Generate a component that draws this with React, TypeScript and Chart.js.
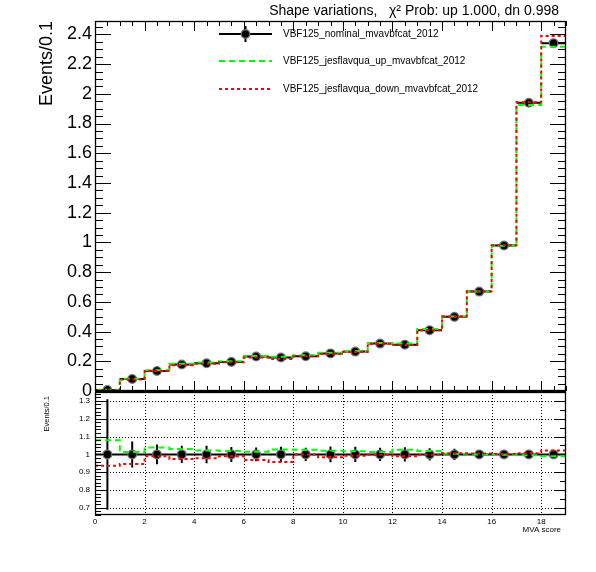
import { useEffect, useRef } from 'react'
import { Chart, registerables } from 'chart.js'

Chart.register(...registerables)

const FONT = "'Liberation Sans', Arial, Helvetica, sans-serif"

// MVA score histogram: 19 bins of width 1
const binEdges = [0, 1, 2, 3, 4, 5, 6, 7, 8, 9, 10, 11, 12, 13, 14, 15, 16, 17, 18, 19]

// Events/0.1 in the upper pad
const nominal = [0.007, 0.081, 0.135, 0.178, 0.187, 0.196, 0.232, 0.225, 0.234, 0.253, 0.265, 0.319, 0.312, 0.409, 0.499, 0.669, 0.979, 1.94, 2.341]
const nominalErr = [0.002, 0.006, 0.0074, 0.0085, 0.0092, 0.0082, 0.009, 0.0097, 0.0087, 0.011, 0.0114, 0.0118, 0.0125, 0.0139, 0.016, 0.0167, 0.0176, 0.025, 0.028]
const jesUp = [0.0076, 0.082, 0.14, 0.183, 0.191, 0.2, 0.235, 0.231, 0.24, 0.258, 0.27, 0.323, 0.32, 0.417, 0.501, 0.669, 0.977, 1.924, 2.317]
const jesDown = [0.0066, 0.077, 0.134, 0.173, 0.183, 0.194, 0.225, 0.216, 0.234, 0.249, 0.263, 0.318, 0.309, 0.408, 0.502, 0.672, 0.981, 1.944, 2.389]

// ratio pad
const ratioUp = [1.08, 1.013, 1.039, 1.03, 1.022, 1.019, 1.015, 1.028, 1.026, 1.02, 1.017, 1.013, 1.026, 1.019, 1.004, 1.0, 0.998, 0.995, 0.99]
const ratioDown = [0.936, 0.946, 0.99, 0.974, 0.979, 0.989, 0.969, 0.958, 1.0, 0.984, 0.993, 0.998, 0.99, 0.998, 1.006, 1.005, 1.002, 1.007, 1.022]
const ratioErr = [0.31, 0.073, 0.055, 0.048, 0.049, 0.042, 0.039, 0.043, 0.037, 0.044, 0.043, 0.037, 0.04, 0.034, 0.032, 0.025, 0.018, 0.013, 0.012]

const topYTicks = [0, 0.2, 0.4, 0.6, 0.8, 1, 1.2, 1.4, 1.6, 1.8, 2, 2.2, 2.4]
const ratioYTicks = [0.7, 0.8, 0.9, 1, 1.1, 1.2, 1.3]
const ratioXTicks = [0, 2, 4, 6, 8, 10, 12, 14, 16, 18]

const legendLabels = [
  'VBF125_nominal_mvavbfcat_2012',
  'VBF125_jesflavqua_up_mvavbfcat_2012',
  'VBF125_jesflavqua_down_mvavbfcat_2012',
]
const titleText = 'Shape variations,   χ² Prob: up 1.000, dn 0.998'

const GREEN = '#00ff00'
const RED = '#ff0000'
const GREEN_DASH = [6, 4]
const RED_DASH = [3, 3]

const centers = binEdges.slice(0, -1).map((e, i) => (e + binEdges[i + 1]) / 2)
const ratioNominal = nominal.map(() => 1)

function stepPoints(values: number[]) {
  return binEdges.map((x, i) => ({ x, y: values[Math.min(i, values.length - 1)] }))
}

function fmt(v: number | string) {
  return String(Number(Number(v).toFixed(2)))
}

function clipArea(chart: Chart) {
  const { ctx, chartArea: a } = chart
  ctx.beginPath()
  ctx.rect(a.left, a.top, a.right - a.left, a.bottom - a.top)
  ctx.clip()
}

function drawErrorBars(chart: Chart, values: number[], errs: number[]) {
  const { ctx, scales } = chart
  const x = scales.x
  const y = scales.y
  ctx.save()
  clipArea(chart)
  ctx.strokeStyle = '#000'
  ctx.lineWidth = 2
  ctx.beginPath()
  values.forEach((v, i) => {
    const py = y.getPixelForValue(v)
    ctx.moveTo(x.getPixelForValue(binEdges[i]), py)
    ctx.lineTo(x.getPixelForValue(binEdges[i + 1]), py)
    const cx = x.getPixelForValue(centers[i])
    ctx.moveTo(cx, y.getPixelForValue(v - errs[i]))
    ctx.lineTo(cx, y.getPixelForValue(v + errs[i]))
  })
  ctx.stroke()
  ctx.restore()
}

// ROOT-style inward tick marks
function tickMarks(chart: Chart, axis: 'x' | 'y', from: number, to: number, step: number, len: number, sides: string[]) {
  const { ctx, chartArea: a, scales } = chart
  const s = scales[axis]
  ctx.beginPath()
  for (let k = 0; from + k * step <= to + 1e-9; k++) {
    const p = Math.round(s.getPixelForValue(from + k * step)) + 0.5
    if (axis === 'x') {
      if (sides.includes('bottom')) { ctx.moveTo(p, a.bottom); ctx.lineTo(p, a.bottom - len) }
      if (sides.includes('top')) { ctx.moveTo(p, a.top); ctx.lineTo(p, a.top + len) }
    } else {
      if (sides.includes('left')) { ctx.moveTo(a.left, p); ctx.lineTo(a.left + len, p) }
      if (sides.includes('right')) { ctx.moveTo(a.right, p); ctx.lineTo(a.right - len, p) }
    }
  }
  ctx.stroke()
}

function drawFrame(chart: Chart) {
  const { ctx, chartArea: a } = chart
  ctx.strokeStyle = '#000'
  ctx.lineWidth = 1.3
  ctx.strokeRect(a.left + 0.5, a.top + 0.5, a.right - a.left - 1, a.bottom - a.top - 1)
}

function rotatedTitle(ctx: CanvasRenderingContext2D, text: string, x: number, y: number, size: number) {
  ctx.save()
  ctx.translate(x, y)
  ctx.rotate(-Math.PI / 2)
  ctx.font = `${size}px ${FONT}`
  ctx.fillStyle = '#000'
  ctx.textAlign = 'right'
  ctx.textBaseline = 'middle'
  ctx.fillText(text, 0, 0)
  ctx.restore()
}

function drawMarker(ctx: CanvasRenderingContext2D, x: number, y: number) {
  ctx.beginPath()
  ctx.arc(x, y, 4.3, 0, Math.PI * 2)
  ctx.fillStyle = '#000'
  ctx.fill()
  ctx.lineWidth = 1.4
  ctx.strokeStyle = 'rgba(110,110,110,0.9)'
  ctx.stroke()
}

// keep the plot area exactly where the layout padding puts it
function noScalePadding(s: any) {
  s.paddingTop = 0
  s.paddingBottom = 0
  s.paddingLeft = 0
  s.paddingRight = 0
}

const topDecor = {
  id: 'topDecor',
  beforeDatasetsDraw(chart: Chart) {
    drawErrorBars(chart, nominal, nominalErr)
  },
  afterDraw(chart: Chart) {
    const { ctx, chartArea: a } = chart
    ctx.save()
    drawFrame(chart)
    ctx.lineWidth = 2
    ctx.beginPath()
    ctx.moveTo(a.left, a.bottom)
    ctx.lineTo(a.right, a.bottom)
    ctx.stroke()
    ctx.lineWidth = 1
    tickMarks(chart, 'x', 0, 19, 0.5, 5, ['top', 'bottom'])
    tickMarks(chart, 'x', 0, 18, 2, 10, ['top', 'bottom'])
    tickMarks(chart, 'y', 0, 2.49, 0.05, 8, ['left', 'right'])
    tickMarks(chart, 'y', 0, 2.4, 0.2, 16, ['left', 'right'])

    // title
    ctx.font = `14px ${FONT}`
    ctx.fillStyle = '#000'
    ctx.textAlign = 'right'
    ctx.textBaseline = 'alphabetic'
    ctx.fillText(titleText, 559, 15)

    rotatedTitle(ctx, 'Events/0.1', 47, 21, 18)

    // legend
    const rows = [34, 61, 89]
    const x0 = 219
    const x1 = 272
    ctx.lineWidth = 2
    ctx.strokeStyle = '#000'
    ctx.beginPath()
    ctx.moveTo(x0, rows[0]); ctx.lineTo(x1, rows[0])
    ctx.moveTo((x0 + x1) / 2, rows[0] - 8); ctx.lineTo((x0 + x1) / 2, rows[0] + 8)
    ctx.stroke()
    drawMarker(ctx, (x0 + x1) / 2, rows[0])
    ctx.lineWidth = 2
    ctx.strokeStyle = GREEN
    ctx.setLineDash(GREEN_DASH)
    ctx.beginPath(); ctx.moveTo(x0, rows[1]); ctx.lineTo(x1, rows[1]); ctx.stroke()
    ctx.strokeStyle = RED
    ctx.setLineDash(RED_DASH)
    ctx.beginPath(); ctx.moveTo(x0, rows[2]); ctx.lineTo(x1, rows[2]); ctx.stroke()
    ctx.setLineDash([])
    ctx.font = `10px ${FONT}`
    ctx.fillStyle = '#000'
    ctx.textAlign = 'left'
    ctx.textBaseline = 'middle'
    legendLabels.forEach((t, i) => ctx.fillText(t, 283, rows[i]))
    ctx.restore()
  },
}

const bottomDecor = {
  id: 'bottomDecor',
  beforeDatasetsDraw(chart: Chart) {
    const { ctx, chartArea: a, scales } = chart
    ctx.save()
    ctx.strokeStyle = '#000'
    ctx.lineWidth = 1
    ctx.setLineDash([1, 2])
    ctx.beginPath()
    ratioYTicks.forEach((v) => {
      const p = Math.round(scales.y.getPixelForValue(v)) + 0.5
      ctx.moveTo(a.left, p); ctx.lineTo(a.right, p)
    })
    ratioXTicks.slice(1).forEach((v) => {
      const p = Math.round(scales.x.getPixelForValue(v)) + 0.5
      ctx.moveTo(p, a.top); ctx.lineTo(p, a.bottom)
    })
    ctx.stroke()
    ctx.restore()
    drawErrorBars(chart, ratioNominal, ratioErr)
  },
  afterDraw(chart: Chart) {
    const { ctx, chartArea: a, scales } = chart
    ctx.save()
    drawFrame(chart)
    ctx.lineWidth = 1
    tickMarks(chart, 'y', 0.66, 1.35, 0.02, 6, ['left'])
    tickMarks(chart, 'y', 0.7, 1.35, 0.05, 6, ['right'])
    tickMarks(chart, 'y', 0.7, 1.3, 0.1, 12, ['left', 'right'])
    rotatedTitle(ctx, 'Events/0.1', 47, 4, 7.5)
    ctx.font = `8px ${FONT}`
    ctx.fillStyle = '#000'
    ctx.textAlign = 'right'
    ctx.textBaseline = 'middle'
    ratioYTicks.forEach((v) => ctx.fillText(fmt(v), a.left - 5, scales.y.getPixelForValue(v)))
    ctx.fillText('MVA score', 561, 138)
    ctx.restore()
  },
}

function markerDataset(values: number[]) {
  return {
    type: 'line' as const,
    data: centers.map((x, i) => ({ x, y: values[i] })),
    showLine: false,
    pointRadius: 4.3,
    pointBackgroundColor: '#000',
    pointBorderColor: 'rgba(110,110,110,0.9)',
    pointBorderWidth: 1.4,
    order: 3,
  }
}

function stepDataset(values: number[], color: string, dash: number[], order: number) {
  return {
    type: 'line' as const,
    data: stepPoints(values),
    stepped: true,
    borderColor: color,
    borderWidth: 2,
    borderDash: dash,
    pointRadius: 0,
    fill: false,
    order,
  }
}

const baseOptions = {
  responsive: true,
  maintainAspectRatio: false,
  animation: false as const,
  events: [],
  plugins: { legend: { display: false }, tooltip: { enabled: false } },
}

export default function App() {
  const topRef = useRef<HTMLCanvasElement>(null)
  const bottomRef = useRef<HTMLCanvasElement>(null)

  useEffect(() => {
    if (!topRef.current || !bottomRef.current) return

    const top = new Chart(topRef.current, {
      type: 'line',
      data: {
        datasets: [
          markerDataset(nominal),
          stepDataset(jesUp, GREEN, GREEN_DASH, 2),
          stepDataset(jesDown, RED, RED_DASH, 1),
        ] as any,
      },
      options: {
        ...baseOptions,
        layout: { autoPadding: false, padding: { left: 0, right: 30, top: 21, bottom: 19 } },
        scales: {
          x: { type: 'linear', min: 0, max: 19, display: false },
          y: {
            type: 'linear',
            min: 0,
            max: 2.49,
            afterBuildTicks: (s: any) => {
              s.ticks = topYTicks.map((value) => ({ value }))
            },
            afterFit: (s: any) => {
              s.width = 95
              noScalePadding(s)
            },
            grid: { display: false, drawTicks: false },
            border: { display: false },
            ticks: {
              color: '#000',
              autoSkip: false,
              padding: 3,
              font: { family: FONT, size: 18 },
              callback: (v: any) => fmt(v),
            },
          },
        },
      } as any,
      plugins: [topDecor],
    })

    const bottom = new Chart(bottomRef.current, {
      type: 'line',
      data: {
        datasets: [
          markerDataset(ratioNominal),
          stepDataset(ratioUp, GREEN, GREEN_DASH, 2),
          stepDataset(ratioDown, RED, RED_DASH, 1),
        ] as any,
      },
      options: {
        ...baseOptions,
        layout: { autoPadding: false, padding: { left: 0, right: 30, top: 0, bottom: 0 } },
        scales: {
          x: {
            type: 'linear',
            min: 0,
            max: 19,
            afterBuildTicks: (s: any) => {
              s.ticks = ratioXTicks.map((value) => ({ value }))
            },
            afterFit: (s: any) => {
              s.height = 57
              noScalePadding(s)
            },
            grid: { display: false, drawTicks: false },
            border: { display: false },
            ticks: {
              color: '#000',
              autoSkip: false,
              maxRotation: 0,
              padding: 2,
              font: { family: FONT, size: 8 },
              callback: (v: any) => fmt(v),
            },
          },
          y: {
            type: 'linear',
            min: 0.66,
            max: 1.35,
            afterBuildTicks: (s: any) => {
              s.ticks = ratioYTicks.map((value) => ({ value }))
            },
            afterFit: (s: any) => {
              s.width = 95
              noScalePadding(s)
            },
            grid: { display: false, drawTicks: false },
            border: { display: false },
            ticks: { display: false, padding: 0 },
          },
        },
      } as any,
      plugins: [bottomDecor],
    })

    return () => {
      top.destroy()
      bottom.destroy()
    }
  }, [])

  return (
    <div style={{ position: 'absolute', left: 0, top: 0, width: 596, height: 572, background: '#fff', overflow: 'hidden' }}>
      <div style={{ position: 'absolute', left: 0, top: 392, width: 596, height: 180 }}>
        <canvas ref={bottomRef}></canvas>
      </div>
      <div style={{ position: 'absolute', left: 0, top: 0, width: 596, height: 410 }}>
        <canvas ref={topRef}></canvas>
      </div>
    </div>
  )
}
